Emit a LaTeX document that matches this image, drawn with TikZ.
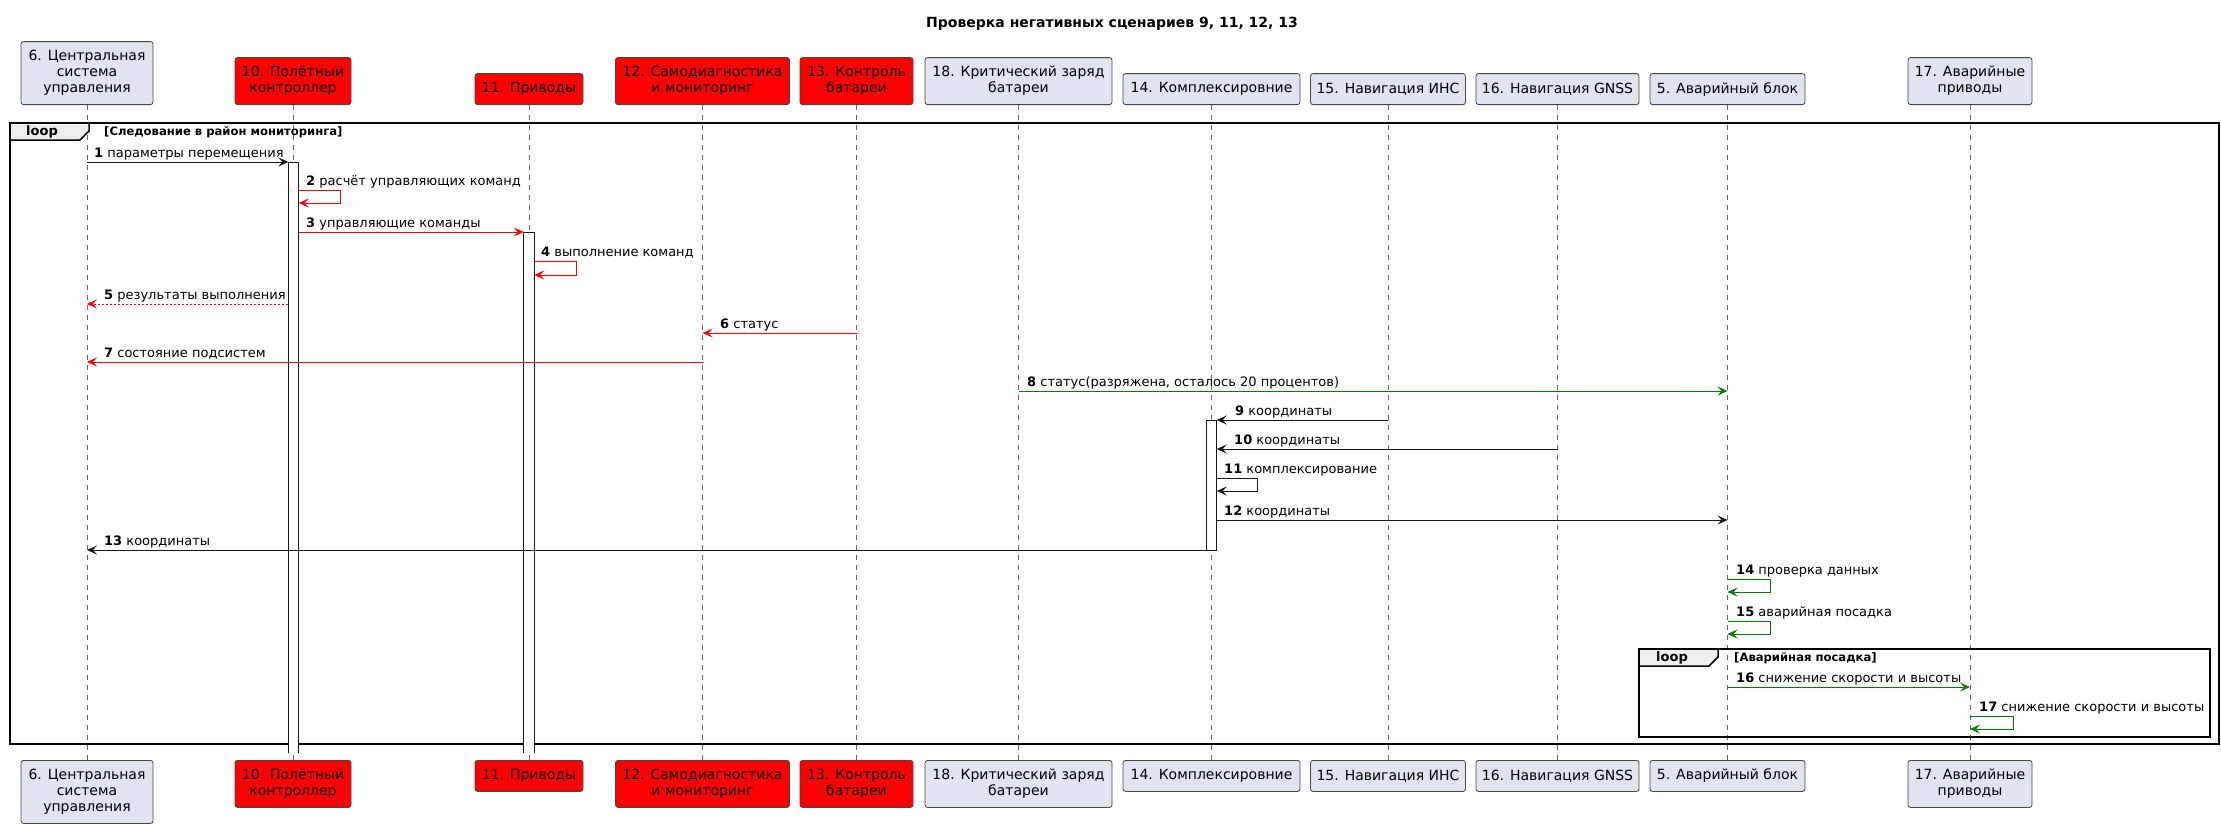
\documentclass[tikz,border=0pt]{standalone}
\usepackage{fontspec}
\setmainfont{DejaVu Sans}
\usetikzlibrary{arrows.meta,calc}
\definecolor{partfill}{HTML}{E2E2F0}
\definecolor{partline}{HTML}{181818}
\definecolor{tabfill}{HTML}{EEEEEE}
\definecolor{pgreen}{HTML}{008000}
\definecolor{pred}{HTML}{FF0000}
\tikzset{
  part/.style={draw=partline!80, line width=0.8pt, fill=partfill, rounded corners=2.5pt, align=center, inner sep=0pt, font=\fontsize{14}{16}\selectfont},
  redpart/.style={part, fill=pred},
  lifeline/.style={draw=partline!65, line width=0.7pt, dash pattern=on 5pt off 5pt},
  actbar/.style={fill=white, minimum width=10pt, inner sep=0pt, anchor=north},
  actedge/.style={draw=partline, line width=0.8pt},
  msg/.style={line width=1pt, -{Stealth[length=10pt,width=9pt,inset=4pt]}},
  blackmsg/.style={msg, draw=partline},
  redmsg/.style={msg, draw=pred},
  greenmsg/.style={msg, draw=pgreen},
  mlabel/.style={anchor=base west, inner sep=0pt, font=\fontsize{13}{15}\selectfont},
  frameline/.style={draw=black, line width=1.5pt},
  looptab/.style={fill=tabfill, draw=black, line width=1.5pt},
  loopword/.style={font=\fontsize{13}{15}\selectfont\bfseries, inner sep=0pt},
  guard/.style={anchor=west, inner sep=0pt, font=\fontsize{11.6}{13}\selectfont\bfseries},
}
\newcommand{\num}[1]{\textbf{#1}}
\begin{document}
\begin{tikzpicture}[x=1pt,y=-1pt]
\useasboundingbox (0,0) rectangle (2221,828);
% title
\node[font=\fontsize{14}{16}\selectfont\bfseries, inner sep=0pt] (title) at (1112,24) {Проверка негативных сценариев 9, 11, 12, 13};
% participants top
\node[part, minimum width=132pt, minimum height=63pt, anchor=south] (p6t) at (87,105) {6. Центральная\\система\\управления};
\node[redpart, minimum width=116pt, minimum height=47pt, anchor=south] (p10t) at (293,105) {10. Полётный\\контроллер};
\node[redpart, minimum width=108pt, minimum height=31pt, anchor=south] (p11t) at (529,105) {11. Приводы};
\node[redpart, minimum width=174pt, minimum height=47pt, anchor=south] (p12t) at (702.5,105) {12. Самодиагностика\\и мониторинг};
\node[redpart, minimum width=113pt, minimum height=47pt, anchor=south] (p13t) at (856.5,105) {13. Контроль\\батареи};
\node[part, minimum width=187pt, minimum height=47pt, anchor=south] (p18t) at (1018.5,105) {18. Критический заряд\\батареи};
\node[part, minimum width=177pt, minimum height=31pt, anchor=south] (p14t) at (1211.5,105) {14. Комплексировние};
\node[part, minimum width=155pt, minimum height=31pt, anchor=south] (p15t) at (1388,105) {15. Навигация ИНС};
\node[part, minimum width=163pt, minimum height=31pt, anchor=south] (p16t) at (1557.5,105) {16. Навигация GNSS};
\node[part, minimum width=155pt, minimum height=31pt, anchor=south] (p5t) at (1727.5,105) {5. Аварийный блок};
\node[part, minimum width=124pt, minimum height=47pt, anchor=south] (p17t) at (1970,105) {17. Аварийные\\приводы};
% participants bottom
\node[part, minimum width=132pt, minimum height=63pt, anchor=north] (p6b) at (87,760) {6. Центральная\\система\\управления};
\node[redpart, minimum width=116pt, minimum height=47pt, anchor=north] (p10b) at (293,760) {10. Полётный\\контроллер};
\node[redpart, minimum width=108pt, minimum height=31pt, anchor=north] (p11b) at (529,760) {11. Приводы};
\node[redpart, minimum width=174pt, minimum height=47pt, anchor=north] (p12b) at (702.5,760) {12. Самодиагностика\\и мониторинг};
\node[redpart, minimum width=113pt, minimum height=47pt, anchor=north] (p13b) at (856.5,760) {13. Контроль\\батареи};
\node[part, minimum width=187pt, minimum height=47pt, anchor=north] (p18b) at (1018.5,760) {18. Критический заряд\\батареи};
\node[part, minimum width=177pt, minimum height=31pt, anchor=north] (p14b) at (1211.5,760) {14. Комплексировние};
\node[part, minimum width=155pt, minimum height=31pt, anchor=north] (p15b) at (1388,760) {15. Навигация ИНС};
\node[part, minimum width=163pt, minimum height=31pt, anchor=north] (p16b) at (1557.5,760) {16. Навигация GNSS};
\node[part, minimum width=155pt, minimum height=31pt, anchor=north] (p5b) at (1727.5,760) {5. Аварийный блок};
\node[part, minimum width=124pt, minimum height=47pt, anchor=north] (p17b) at (1970,760) {17. Аварийные\\приводы};
% lifelines
\foreach \p in {p6,p10,p11,p12,p13,p18,p14,p15,p16,p5,p17}{
  \draw[lifeline] (\p t.south) -- (\p b.north);
}
% outer loop frame
\draw[frameline] (10,123) rectangle (2219,744);
\draw[looptab] (10,123) -- (89,123) -- (89,131) -- (80,140) -- (10,140) -- cycle;
\node[loopword] (loop1) at (42,131.5) {loop};
\node[guard] (guard1) at (104,132) {[Следование в район мониторинга]};
% inner loop frame
\draw[frameline] (1639,649) rectangle (2210,737);
\draw[looptab] (1639,649) -- (1718,649) -- (1718,657) -- (1709,666) -- (1639,666) -- cycle;
\node[loopword] (loop2) at (1672,657.5) {loop};
\node[guard] (guard2) at (1734,658) {[Аварийная посадка]};
% activation bars
\node[actbar, minimum height=591pt] (a10) at (293.5,162) {};
\draw[actedge] (a10.south west) -- (a10.north west) -- (a10.north east) -- (a10.south east);
\node[actbar, minimum height=521pt] (a11) at (529,232) {};
\draw[actedge] (a11.south west) -- (a11.north west) -- (a11.north east) -- (a11.south east);
\node[actbar, minimum height=130pt] (a14) at (1211.5,420) {};
\draw[actedge] (a14.south west) rectangle (a14.north east);
% messages
\draw[blackmsg] (p6t |- 0,162) -- (a10.west |- 0,162);
\node[mlabel] (l1) at (94,157) {\num{1} параметры перемещения};
\draw[redmsg] (a10.east |- 0,190) -- ++(42,0) -- ++(0,13) -- (a10.east |- 0,203);
\node[mlabel] (l2) at (306,185) {\num{2} расчёт управляющих команд};
\draw[redmsg] (a10.east |- 0,232) -- (a11.west |- 0,232);
\node[mlabel] (l3) at (306,227) {\num{3} управляющие команды};
\draw[redmsg] (a11.east |- 0,261) -- ++(42,0) -- ++(0,14) -- (a11.east |- 0,275);
\node[mlabel] (l4) at (541,256) {\num{4} выполнение команд};
\draw[redmsg, dash pattern=on 2pt off 2pt] (a10.west |- 0,304) -- (p6t |- 0,304);
\node[mlabel] (l5) at (104,299) {\num{5} результаты выполнения};
\draw[redmsg] (p13t |- 0,333) -- (p12t |- 0,333);
\node[mlabel] (l6) at (720,328) {\num{6} статус};
\draw[redmsg] (p12t |- 0,362) -- (p6t |- 0,362);
\node[mlabel] (l7) at (104,357) {\num{7} состояние подсистем};
\draw[greenmsg] (p18t |- 0,391) -- (p5t |- 0,391);
\node[mlabel] (l8) at (1027,386) {\num{8} статус(разряжена, осталось 20 процентов)};
\draw[blackmsg] (p15t |- 0,420) -- (a14.east |- 0,420);
\node[mlabel] (l9) at (1235,415) {\num{9} координаты};
\draw[blackmsg] (p16t |- 0,449) -- (a14.east |- 0,449);
\node[mlabel] (l10) at (1234,444) {\num{10} координаты};
\draw[blackmsg] (a14.east |- 0,478) -- ++(41,0) -- ++(0,13) -- (a14.east |- 0,491);
\node[mlabel] (l11) at (1224,473) {\num{11} комплексирование};
\draw[blackmsg] (a14.east |- 0,520) -- (p5t |- 0,520);
\node[mlabel] (l12) at (1224,515) {\num{12} координаты};
\draw[blackmsg] (a14.west |- 0,550) -- (p6t |- 0,550);
\node[mlabel] (l13) at (104,545) {\num{13} координаты};
\draw[greenmsg] (p5t |- 0,579) -- ++(43,0) -- ++(0,13) -- (p5t |- 0,592);
\node[mlabel] (l14) at (1736,574) {\num{14} проверка данных};
\draw[greenmsg] (p5t |- 0,621) -- ++(43,0) -- ++(0,13) -- (p5t |- 0,634);
\node[mlabel] (l15) at (1736,616) {\num{15} аварийная посадка};
\draw[greenmsg] (p5t |- 0,687) -- (p17t |- 0,687);
\node[mlabel] (l16) at (1736,682) {\num{16} снижение скорости и высоты};
\draw[greenmsg] (p17t |- 0,716) -- ++(43,0) -- ++(0,13) -- (p17t |- 0,729);
\node[mlabel] (l17) at (1979,711) {\num{17} снижение скорости и высоты};
\end{tikzpicture}
\end{document}
